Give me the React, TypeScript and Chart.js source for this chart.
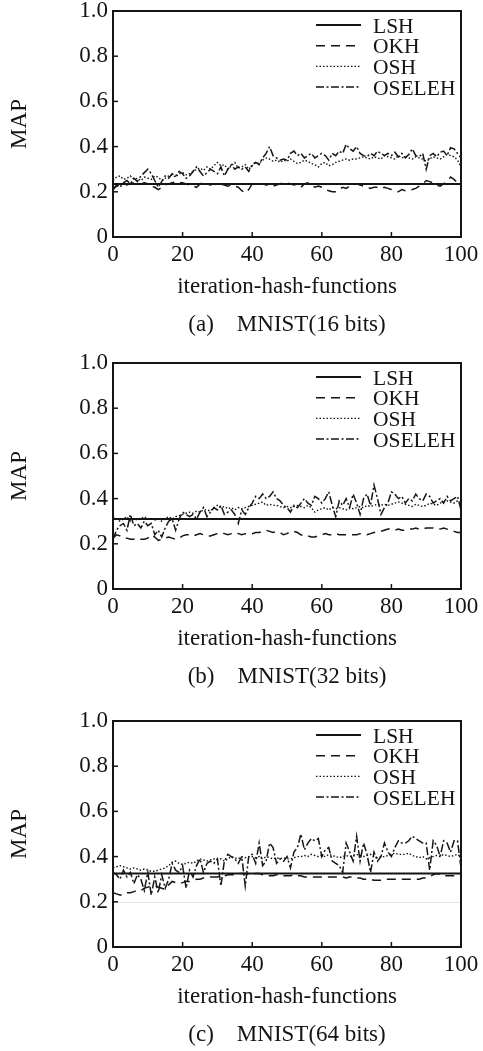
import React, { useEffect, useRef } from "react";
import { Chart, registerables } from "chart.js";

Chart.register(...registerables);

const FONT = "'Liberation Serif', 'Times New Roman', serif";
const INK = "#151313";
const LINE = "#151515";
const FS = 23;
const LEGEND_FS = 21.5;

// ---------------- data ----------------
const seriesNames = ["LSH", "OKH", "OSH", "OSELEH"];
const xTickValues = [0, 20, 40, 60, 80, 100];
const yTickValues = [0, 0.2, 0.4, 0.6, 0.8, 1.0];
const xTitle = "iteration-hash-functions";
const yTitle = "MAP";
const captions = ["(a)    MNIST(16 bits)", "(b)    MNIST(32 bits)", "(c)    MNIST(64 bits)"];
const lshLevels = [0.235, 0.31, 0.325];
const lshRange = [0, 100];

const okhA = [
  0.21, 0.225, 0.235, 0.24, 0.23, 0.235, 0.24, 0.23, 0.235, 0.24,
  0.235, 0.225, 0.22, 0.21, 0.22, 0.23, 0.235, 0.24, 0.245, 0.24,
  0.24, 0.235, 0.23, 0.225, 0.22, 0.235, 0.24, 0.235, 0.23, 0.235,
  0.23, 0.235, 0.23, 0.225, 0.23, 0.225, 0.22, 0.205, 0.195, 0.21,
  0.235, 0.24, 0.235, 0.235, 0.23, 0.23, 0.225, 0.23, 0.235, 0.24,
  0.24, 0.235, 0.23, 0.235, 0.22, 0.235, 0.24, 0.23, 0.22, 0.225,
  0.22, 0.21, 0.205, 0.2, 0.2, 0.21, 0.22, 0.215, 0.225, 0.23,
  0.235, 0.23, 0.225, 0.22, 0.215, 0.22, 0.22, 0.215, 0.22, 0.215,
  0.21, 0.205, 0.2, 0.21, 0.205, 0.205, 0.21, 0.215, 0.225, 0.235,
  0.25, 0.245, 0.24, 0.23, 0.225, 0.235, 0.245, 0.265, 0.255, 0.24,
  0.245,
];
const oshA = [
  0.25, 0.265, 0.27, 0.255, 0.26, 0.27, 0.255, 0.26, 0.25, 0.265,
  0.26, 0.255, 0.27, 0.265, 0.25, 0.26, 0.27, 0.275, 0.265, 0.28,
  0.285, 0.275, 0.28, 0.29, 0.3, 0.305, 0.295, 0.31, 0.3, 0.315,
  0.33, 0.315, 0.32, 0.3, 0.315, 0.33, 0.305, 0.31, 0.32, 0.3,
  0.315, 0.33, 0.325, 0.34, 0.35, 0.345, 0.335, 0.34, 0.33, 0.34,
  0.335, 0.345, 0.335, 0.325, 0.33, 0.34, 0.335, 0.325, 0.32, 0.31,
  0.325, 0.33, 0.315, 0.32, 0.33, 0.335, 0.34, 0.345, 0.34, 0.345,
  0.345, 0.35, 0.355, 0.35, 0.345, 0.355, 0.35, 0.345, 0.36, 0.355,
  0.35, 0.345, 0.36, 0.35, 0.355, 0.35, 0.345, 0.355, 0.35, 0.345,
  0.335, 0.345, 0.355, 0.35, 0.345, 0.355, 0.365, 0.36, 0.355, 0.34,
  0.31,
];
const oselehA = [
  0.21, 0.23, 0.22, 0.24, 0.25, 0.235, 0.26, 0.245, 0.27, 0.285,
  0.3, 0.28, 0.25, 0.22, 0.245, 0.27, 0.26, 0.28, 0.27, 0.29,
  0.28, 0.26, 0.27, 0.29, 0.31, 0.29, 0.27, 0.285, 0.3, 0.29,
  0.28, 0.31, 0.27, 0.3, 0.32, 0.3, 0.31, 0.3, 0.31, 0.29,
  0.32, 0.33, 0.32, 0.35, 0.37, 0.4, 0.36, 0.35, 0.34, 0.345,
  0.34, 0.37, 0.38, 0.36, 0.37, 0.35, 0.36, 0.37, 0.35, 0.36,
  0.37, 0.36, 0.34, 0.37, 0.36, 0.38, 0.37, 0.41, 0.39, 0.38,
  0.4, 0.37, 0.36, 0.355, 0.37, 0.36, 0.38, 0.37, 0.36, 0.37,
  0.36, 0.375, 0.355, 0.37, 0.35, 0.365, 0.39, 0.36, 0.355, 0.37,
  0.3, 0.36, 0.37, 0.355, 0.375, 0.38, 0.36, 0.395, 0.39, 0.37,
  0.35,
];

const okhB = [
  0.225, 0.24, 0.235, 0.225, 0.225, 0.22, 0.22, 0.225, 0.22, 0.22,
  0.225, 0.24, 0.23, 0.215, 0.22, 0.225, 0.23, 0.225, 0.22, 0.225,
  0.235, 0.24, 0.24, 0.235, 0.24, 0.245, 0.24, 0.235, 0.235, 0.24,
  0.245, 0.25, 0.245, 0.24, 0.245, 0.25, 0.245, 0.24, 0.245, 0.245,
  0.245, 0.25, 0.25, 0.255, 0.26, 0.255, 0.25, 0.255, 0.25, 0.24,
  0.245, 0.255, 0.255, 0.25, 0.24, 0.235, 0.235, 0.23, 0.23, 0.235,
  0.24, 0.245, 0.24, 0.24, 0.245, 0.24, 0.24, 0.24, 0.24, 0.24,
  0.24, 0.245, 0.245, 0.24, 0.245, 0.25, 0.255, 0.255, 0.26, 0.265,
  0.265, 0.26, 0.265, 0.26, 0.26, 0.265, 0.265, 0.27, 0.265, 0.265,
  0.27, 0.27, 0.27, 0.265, 0.265, 0.27, 0.265, 0.26, 0.255, 0.25,
  0.25,
];
const oshB = [
  0.32, 0.31, 0.3, 0.31, 0.32, 0.3, 0.31, 0.305, 0.31, 0.32,
  0.31, 0.31, 0.305, 0.31, 0.3, 0.31, 0.32, 0.31, 0.32, 0.325,
  0.33, 0.335, 0.34, 0.335, 0.345, 0.34, 0.35, 0.35, 0.345, 0.36,
  0.37, 0.36, 0.365, 0.355, 0.36, 0.35, 0.36, 0.355, 0.36, 0.365,
  0.37, 0.375, 0.38, 0.385, 0.37, 0.375, 0.37, 0.37, 0.365, 0.36,
  0.365, 0.36, 0.365, 0.37, 0.365, 0.36, 0.37, 0.36, 0.34, 0.35,
  0.355, 0.36, 0.35, 0.36, 0.355, 0.36, 0.355, 0.35, 0.36, 0.355,
  0.36, 0.365, 0.36, 0.37, 0.365, 0.37, 0.375, 0.37, 0.375, 0.37,
  0.375, 0.38, 0.385, 0.38, 0.375, 0.37, 0.365, 0.375, 0.37, 0.365,
  0.37, 0.38, 0.375, 0.37, 0.38, 0.385, 0.39, 0.385, 0.38, 0.39,
  0.385,
];
const oselehB = [
  0.22, 0.26, 0.28, 0.29, 0.26, 0.33, 0.28, 0.29, 0.27, 0.3,
  0.28, 0.29, 0.24, 0.26, 0.23, 0.27, 0.3, 0.31, 0.26, 0.31,
  0.34, 0.33, 0.32, 0.33, 0.31, 0.34, 0.36, 0.32, 0.34, 0.36,
  0.35, 0.37, 0.33, 0.34, 0.35, 0.33, 0.29, 0.35, 0.33, 0.36,
  0.38, 0.41, 0.4, 0.42, 0.4, 0.41, 0.43, 0.4, 0.39, 0.37,
  0.36, 0.34, 0.37, 0.36, 0.38, 0.4, 0.38, 0.37, 0.41, 0.4,
  0.38, 0.4, 0.43, 0.37, 0.32, 0.39, 0.37, 0.4, 0.36, 0.42,
  0.38, 0.33, 0.4, 0.42, 0.37, 0.46, 0.4, 0.33, 0.36, 0.38,
  0.43, 0.42, 0.4, 0.41, 0.38, 0.4, 0.39, 0.42, 0.4, 0.39,
  0.42, 0.41, 0.38, 0.39, 0.4, 0.38, 0.41, 0.39, 0.4, 0.41,
  0.35,
];

const okhC = [
  0.24, 0.235, 0.23, 0.23, 0.24, 0.24, 0.245, 0.25, 0.25, 0.26,
  0.265, 0.27, 0.27, 0.265, 0.26, 0.255, 0.275, 0.29, 0.285, 0.28,
  0.285, 0.29, 0.29, 0.295, 0.3, 0.3, 0.305, 0.305, 0.31, 0.31,
  0.31, 0.315, 0.315, 0.32, 0.32, 0.32, 0.325, 0.325, 0.325, 0.32,
  0.32, 0.325, 0.325, 0.32, 0.32, 0.315, 0.315, 0.32, 0.32, 0.315,
  0.315, 0.315, 0.32, 0.315, 0.315, 0.31, 0.31, 0.31, 0.31, 0.31,
  0.31, 0.31, 0.31, 0.31, 0.31, 0.31, 0.31, 0.305, 0.31, 0.31,
  0.305, 0.305, 0.3, 0.3, 0.3, 0.295, 0.295, 0.295, 0.3, 0.3,
  0.3, 0.3, 0.3, 0.3, 0.3, 0.3, 0.3, 0.3, 0.3, 0.305,
  0.305, 0.31, 0.32, 0.325, 0.32, 0.315, 0.315, 0.315, 0.315, 0.315,
  0.315,
];
const oshC = [
  0.35, 0.355, 0.36, 0.355, 0.35, 0.345, 0.35, 0.345, 0.34, 0.345,
  0.34, 0.335, 0.335, 0.34, 0.345, 0.35, 0.36, 0.375, 0.38, 0.37,
  0.365, 0.37, 0.375, 0.37, 0.38, 0.39, 0.385, 0.38, 0.385, 0.39,
  0.385, 0.39, 0.38, 0.39, 0.4, 0.395, 0.39, 0.4, 0.395, 0.4,
  0.4, 0.395, 0.4, 0.39, 0.4, 0.395, 0.39, 0.395, 0.39, 0.395,
  0.39, 0.39, 0.395, 0.4, 0.4, 0.405, 0.4, 0.41, 0.405, 0.4,
  0.405, 0.4, 0.41, 0.405, 0.4, 0.395, 0.4, 0.405, 0.4, 0.405,
  0.41, 0.405, 0.4, 0.405, 0.41, 0.4, 0.395, 0.4, 0.4, 0.405,
  0.41, 0.415, 0.41, 0.41, 0.41, 0.415, 0.405, 0.4, 0.395, 0.4,
  0.39, 0.395, 0.4, 0.405, 0.4, 0.41, 0.405, 0.4, 0.405, 0.41,
  0.4,
];
const oselehC = [
  0.33, 0.32, 0.3, 0.34, 0.31, 0.33, 0.28, 0.32, 0.3, 0.25,
  0.33, 0.23, 0.31, 0.24, 0.32, 0.26, 0.3, 0.37, 0.34, 0.33,
  0.36, 0.26, 0.34, 0.31, 0.36, 0.39, 0.33, 0.37, 0.38, 0.37,
  0.39, 0.27, 0.38, 0.41, 0.4, 0.39, 0.37, 0.4, 0.27, 0.4,
  0.41, 0.37, 0.46, 0.36, 0.38, 0.46, 0.44, 0.37, 0.39, 0.38,
  0.4, 0.35, 0.42, 0.44, 0.5, 0.43, 0.46, 0.48, 0.47, 0.48,
  0.4, 0.43, 0.44, 0.38, 0.37, 0.36, 0.33, 0.46, 0.42, 0.38,
  0.49, 0.38, 0.46, 0.41, 0.33, 0.42, 0.38, 0.4, 0.46, 0.42,
  0.4, 0.44, 0.47, 0.46, 0.46, 0.47, 0.49, 0.48, 0.47, 0.46,
  0.46, 0.34, 0.47, 0.45, 0.4, 0.47, 0.46, 0.42, 0.47, 0.47,
  0.35,
];

const okhSeries = [okhA, okhB, okhC];
const oshSeries = [oshA, oshB, oshC];
const oselehSeries = [oselehA, oselehB, oselehC];
const faintLines = [[], [], [0.2]];

// ---------------- styles ----------------
const dashStyles = [[], [9, 6], [1.5, 2], [8, 2.5, 2, 2.5]];
const widths = [2, 1.5, 1.4, 1.5];
const panelTops = [0, 352, 710];
const CANVAS_W = 483;
const CANVAS_H = 339;

const toPoints = (vals: number[]) => vals.map((v, i) => ({ x: i, y: v }));

const framePlugin = {
  id: "frame",
  beforeDatasetsDraw(chart: any, _args: any, opts: any) {
    const { ctx, chartArea, scales } = chart;
    const faint: number[] = (opts && opts.faint) || [];
    ctx.save();
    ctx.strokeStyle = "#e6e6e6";
    ctx.lineWidth = 1;
    faint.forEach((v) => {
      const y = Math.round(scales.y.getPixelForValue(v)) + 0.5;
      ctx.beginPath();
      ctx.moveTo(chartArea.left, y);
      ctx.lineTo(chartArea.right, y);
      ctx.stroke();
    });
    ctx.restore();
  },
  afterDatasetsDraw(chart: any) {
    const { ctx, chartArea, scales } = chart;
    ctx.save();
    ctx.strokeStyle = LINE;
    ctx.lineWidth = 2;
    ctx.setLineDash([]);
    ctx.strokeRect(chartArea.left, chartArea.top, chartArea.right - chartArea.left, chartArea.bottom - chartArea.top);
    ctx.lineWidth = 1.5;
    yTickValues.slice(1, -1).forEach((v) => {
      const y = scales.y.getPixelForValue(v);
      ctx.beginPath();
      ctx.moveTo(chartArea.left, y);
      ctx.lineTo(chartArea.left + 5, y);
      ctx.stroke();
    });
    xTickValues.slice(1, -1).forEach((v) => {
      const x = scales.x.getPixelForValue(v);
      ctx.beginPath();
      ctx.moveTo(x, chartArea.bottom);
      ctx.lineTo(x, chartArea.bottom - 5);
      ctx.stroke();
    });
    // legend inside the plot
    chart.data.datasets.forEach((ds: any, i: number) => {
      const yText = chartArea.top + 16 + i * 20.7;
      const yLine = yText - 2;
      ctx.beginPath();
      ctx.setLineDash(ds.borderDash || []);
      ctx.lineWidth = ds.borderWidth;
      ctx.strokeStyle = ds.borderColor;
      ctx.moveTo(chartArea.left + 203, yLine);
      ctx.lineTo(chartArea.left + 248, yLine);
      ctx.stroke();
      ctx.setLineDash([]);
      ctx.fillStyle = INK;
      ctx.font = `${LEGEND_FS}px ${FONT}`;
      ctx.textAlign = "left";
      ctx.textBaseline = "middle";
      ctx.fillText(ds.label, chartArea.left + 260, yText);
    });
    ctx.restore();
  },
};

function Panel({ index }: { index: number }) {
  const ref = useRef<HTMLCanvasElement | null>(null);
  useEffect(() => {
    if (!ref.current) return;
    const lsh = lshRange.map((x) => ({ x, y: lshLevels[index] }));
    const seriesData = [lsh, toPoints(okhSeries[index]), toPoints(oshSeries[index]), toPoints(oselehSeries[index])];
    const chart = new Chart(ref.current, {
      type: "line",
      data: {
        datasets: seriesNames.map((name, i) => ({
          label: name,
          data: seriesData[i],
          borderColor: LINE,
          borderWidth: widths[i],
          borderDash: dashStyles[i],
          pointRadius: 0,
          fill: false,
          tension: 0,
        })),
      },
      plugins: [framePlugin],
      options: {
        responsive: false,
        animation: false,
        events: [],
        layout: { padding: { top: 11, right: 22, left: 0, bottom: 0 } },
        font: { family: FONT, size: FS },
        plugins: {
          legend: { display: false },
          tooltip: { enabled: false },
          title: {
            display: true,
            position: "bottom",
            fullSize: false,
            text: captions[index],
            color: INK,
            font: { family: FONT, size: FS, weight: "normal", lineHeight: 1.2 },
            padding: { top: 10, bottom: 0.4 },
          },
          frame: { faint: faintLines[index] },
        } as any,
        scales: {
          x: {
            type: "linear",
            min: 0,
            max: 100,
            grid: { display: false, drawTicks: false },
            border: { display: false },
            ticks: {
              stepSize: 20,
              padding: 4,
              color: INK,
              font: { family: FONT, size: FS },
              maxRotation: 0,
            },
            title: {
              display: true,
              text: xTitle,
              color: INK,
              font: { family: FONT, size: FS },
              padding: { top: 0, bottom: 0 },
            },
            afterFit: (s: any) => {
              s.height = 64;
              s.paddingLeft = 0;
              s.paddingRight = 0;
            },
          },
          y: {
            type: "linear",
            min: 0,
            max: 1,
            grid: { display: false, drawTicks: false },
            border: { display: false },
            ticks: {
              stepSize: 0.2,
              padding: 5,
              color: INK,
              font: { family: FONT, size: FS },
              callback: (v: any) => (Math.abs(Number(v)) < 1e-9 ? "0" : Number(v).toFixed(1)),
            },
            title: {
              display: true,
              text: yTitle,
              color: INK,
              font: { family: FONT, size: FS },
              padding: { top: 6, bottom: 0 },
            },
            afterFit: (s: any) => {
              s.width = 113;
              s.paddingTop = 0;
              s.paddingBottom = 0;
            },
          },
        },
      } as any,
    });
    return () => chart.destroy();
  }, [index]);
  return (
    <canvas
      ref={ref}
      width={CANVAS_W}
      height={CANVAS_H}
      style={{ position: "absolute", left: 0, top: panelTops[index], width: CANVAS_W, height: CANVAS_H, display: "block" }}
    />
  );
}

export default function App() {
  return (
    <div style={{ position: "absolute", left: 0, top: 0, width: 483, height: 1051, background: "#fff" }}>
      {[0, 1, 2].map((i) => (
        <Panel key={i} index={i} />
      ))}
    </div>
  );
}
